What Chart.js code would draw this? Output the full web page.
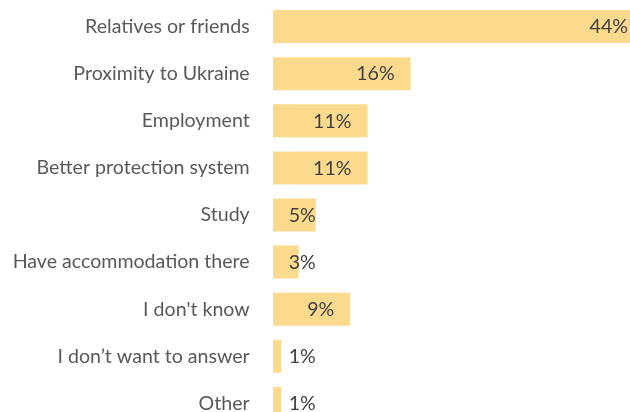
<!DOCTYPE html>
<html>
<head>
<meta charset="utf-8">
<script src="https://cdn.jsdelivr.net/npm/chart.js@4.4.1/dist/chart.umd.min.js"></script>
<style>
  html, body { margin: 0; padding: 0; overflow: hidden; background: #ffffff; }
  canvas { display: block; }
</style>
</head>
<body>
<canvas id="chart" width="630" height="427" style="width:630px;height:427px"></canvas>
<script>
// Reasons for choosing the destination country (share of respondents, %)
const categories = [
  "Relatives or friends",
  "Proximity to Ukraine",
  "Employment",
  "Better protection system",
  "Study",
  "Have accommodation there",
  "I don't know",
  "I don\u2019t want to answer",
  "Other"
];
const shares = [44, 16, 11, 11, 5, 3, 9, 1, 1];
const valueLabels = ["44%", "16%", "11%", "11%", "5%", "3%", "9%", "1%", "1%"];

const FONT = "Lato, 'Open Sans', sans-serif";
const FONT_SIZE = 19.6;

// Writes each percentage near the end of its bar; short bars get it at a fixed spot.
const barValueLabels = {
  id: "barValueLabels",
  afterDatasetsDraw(chart) {
    const ctx = chart.ctx;
    const meta = chart.getDatasetMeta(0);
    const area = chart.chartArea;
    ctx.save();
    ctx.font = FONT_SIZE + "px " + FONT;
    ctx.fillStyle = "#3f3f3f";
    ctx.textBaseline = "middle";
    ctx.textAlign = "left";
    meta.data.forEach((bar, i) => {
      const text = valueLabels[i];
      const w = ctx.measureText(text).width;
      const right = Math.min(bar.x - 16, area.right - 2);
      const x = Math.max(right - w, area.left + 16);
      ctx.fillText(text, x, bar.y + 0.5);
    });
    ctx.restore();
  }
};

new Chart(document.getElementById("chart"), {
  type: "bar",
  data: {
    labels: categories,
    datasets: [{
      data: shares,
      backgroundColor: "#FBDA8E",
      borderWidth: 0,
      categoryPercentage: 0.7,
      barPercentage: 1.0
    }]
  },
  options: {
    indexAxis: "y",
    responsive: false,
    animation: false,
    layout: { padding: { top: 3, right: 0, bottom: 0, left: 0 } },
    plugins: {
      legend: { display: false },
      tooltip: { enabled: false }
    },
    scales: {
      x: {
        min: 0,
        max: 41.45,
        display: false,
        grid: { display: false }
      },
      y: {
        afterFit(scale) {
          scale.width = 272.7;
          scale.paddingTop = 0;
          scale.paddingBottom = 0;
        },
        grid: { display: false },
        border: { display: false },
        ticks: {
          color: "#595959",
          padding: 15,
          font: { family: FONT, size: FONT_SIZE }
        }
      }
    }
  },
  plugins: [barValueLabels]
});
</script>
</body>
</html>
